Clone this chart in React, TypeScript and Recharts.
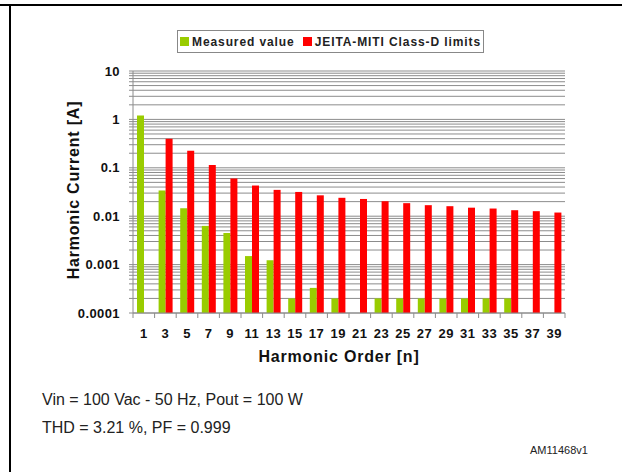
import React from "react";
import {
  BarChart,
  Bar,
  XAxis,
  YAxis,
  CartesianGrid,
  Legend,
  Label,
} from "recharts";

const orders = ["1", "3", "5", "7", "9", "11", "13", "15", "17", "19", "21", "23", "25", "27", "29", "31", "33", "35", "37", "39"];
const measured = [1.2, 0.034, 0.0146, 0.0063, 0.0045, 0.0015, 0.00123, 0.0002, 0.00033, 0.0002, null, 0.0002, 0.0002, 0.0002, 0.0002, 0.0002, 0.0002, 0.0002, null, null];
const limits = [null, 0.4, 0.226, 0.114, 0.06, 0.043, 0.035, 0.0317, 0.027, 0.024, 0.0227, 0.0204, 0.0186, 0.0169, 0.0161, 0.015, 0.0144, 0.0133, 0.0127, 0.0119];
const decades = [0.0001, 0.001, 0.01, 0.1, 1, 10];
const minorSteps = [1, 2, 3, 4, 5, 6, 7, 8, 9];

const data = orders.map((n, i) => ({ n, measured: measured[i], limit: limits[i] }));

// every log gridline: 1..9 x each decade, ending at 10
const yTicks: number[] = [];
decades.slice(0, -1).forEach((d) => minorSteps.forEach((m) => yTicks.push(m * d)));
yTicks.push(10);

const FONT = '"Liberation Sans", Arial, sans-serif';
const GREEN = "#99CC00";
const RED = "#FF0000";
const GRID = "#8c8c8c";

const PLOT_LEFT = 133;
const PLOT_RIGHT = 565;
const PLOT_TOP = 71;
const PLOT_BOTTOM = 313;
const BAND = (PLOT_RIGHT - PLOT_LEFT) / orders.length;

const isDecade = (v: number) => Math.abs(Math.log10(v) - Math.round(Math.log10(v))) < 1e-9;
const fmtY = (v: number) => (isDecade(v) ? String(decades.find((d) => Math.abs(d - v) / d < 1e-9) ?? v) : "");

const XTick = (props: any) => {
  const { x, payload, index } = props;
  const left = x - BAND / 2;
  return (
    <g>
      <line x1={left} y1={PLOT_BOTTOM} x2={left} y2={PLOT_BOTTOM + 5} stroke={GRID} />
      {index === orders.length - 1 && (
        <line x1={x + BAND / 2} y1={PLOT_BOTTOM} x2={x + BAND / 2} y2={PLOT_BOTTOM + 5} stroke={GRID} />
      )}
      <text x={x} y={PLOT_BOTTOM + 25} textAnchor="middle" fontFamily={FONT} fontWeight="bold" fontSize={13} letterSpacing={0.5} fill="#111">
        {payload.value}
      </text>
    </g>
  );
};

const LegendBox = () => (
  <div
    style={{
      border: "1px solid #888",
      height: 21,
      display: "flex",
      alignItems: "center",
      justifyContent: "center",
      fontFamily: FONT,
      fontWeight: "bold",
      fontSize: 12,
      letterSpacing: 0.9,
      color: "#222",
      background: "#fff",
    }}
  >
    <span style={{ width: 9, height: 9, background: GREEN, marginRight: 3 }} />
    <span style={{ marginRight: 8 }}>Measured value</span>
    <span style={{ width: 9, height: 9, background: RED, marginRight: 3 }} />
    <span>JEITA-MITI Class-D limits</span>
  </div>
);

export default function App() {
  return (
    <div style={{ position: "absolute", left: 0, top: 0, width: 622, height: 472, background: "#fff", fontFamily: FONT }}>
      <div style={{ position: "absolute", left: 0, top: 4, width: 622, height: 2, background: "#000" }} />
      <div style={{ position: "absolute", left: 9, top: 4, width: 2, height: 468, background: "#000" }} />
      <BarChart
        width={622}
        height={472}
        data={data}
        margin={{ top: PLOT_TOP, right: 622 - PLOT_RIGHT, bottom: 472 - PLOT_BOTTOM - 30, left: 0 }}
        barGap={0}
        barSize={7}
      >
        <CartesianGrid horizontal vertical={false} stroke={GRID} />
        <XAxis
          dataKey="n"
          interval={0}
          height={30}
          axisLine={{ stroke: GRID }}
          tickLine={false}
          tick={<XTick />}
        >
          <Label
            content={() => (
              <text x={339} y={362} textAnchor="middle" fontFamily={FONT} fontWeight="bold" fontSize={16} letterSpacing={0.8} fill="#111">
                Harmonic Order [n]
              </text>
            )}
          />
        </XAxis>
        <YAxis
          type="number"
          scale="log"
          domain={[0.0001, 10]}
          allowDataOverflow
          ticks={yTicks}
          interval={0}
          width={PLOT_LEFT}
          axisLine={{ stroke: GRID }}
          tickLine={{ stroke: GRID }}
          tickSize={4}
          tickMargin={9}
          tickFormatter={fmtY}
          tick={{ fontFamily: FONT, fontWeight: "bold", fontSize: 13, fill: "#111", letterSpacing: 0.4 }}
        >
          <Label
            content={() => (
              <text x={79} y={190} transform="rotate(-90 79 190)" textAnchor="middle" fontFamily={FONT} fontWeight="bold" fontSize={16} letterSpacing={0.8} fill="#111">
                Harmonic Current [A]
              </text>
            )}
          />
        </YAxis>
        <Legend
          layout="horizontal"
          verticalAlign="middle"
          align="center"
          content={<LegendBox />}
          wrapperStyle={{ left: 177, top: 30, width: 307 }}
        />
        <Bar dataKey="measured" name="Measured value" fill={GREEN} isAnimationActive={false} />
        <Bar dataKey="limit" name="JEITA-MITI Class-D limits" fill={RED} isAnimationActive={false} />
      </BarChart>
      <div style={{ position: "absolute", left: 42, top: 391, fontSize: 16, color: "#222", whiteSpace: "nowrap" }}>
        Vin = 100 Vac - 50 Hz, Pout = 100 W
      </div>
      <div style={{ position: "absolute", left: 42, top: 419, fontSize: 16, color: "#222", whiteSpace: "nowrap" }}>
        THD = 3.21 %, PF = 0.999
      </div>
      <div style={{ position: "absolute", left: 530, top: 444, fontSize: 11, color: "#222", whiteSpace: "nowrap" }}>
        AM11468v1
      </div>
    </div>
  );
}
